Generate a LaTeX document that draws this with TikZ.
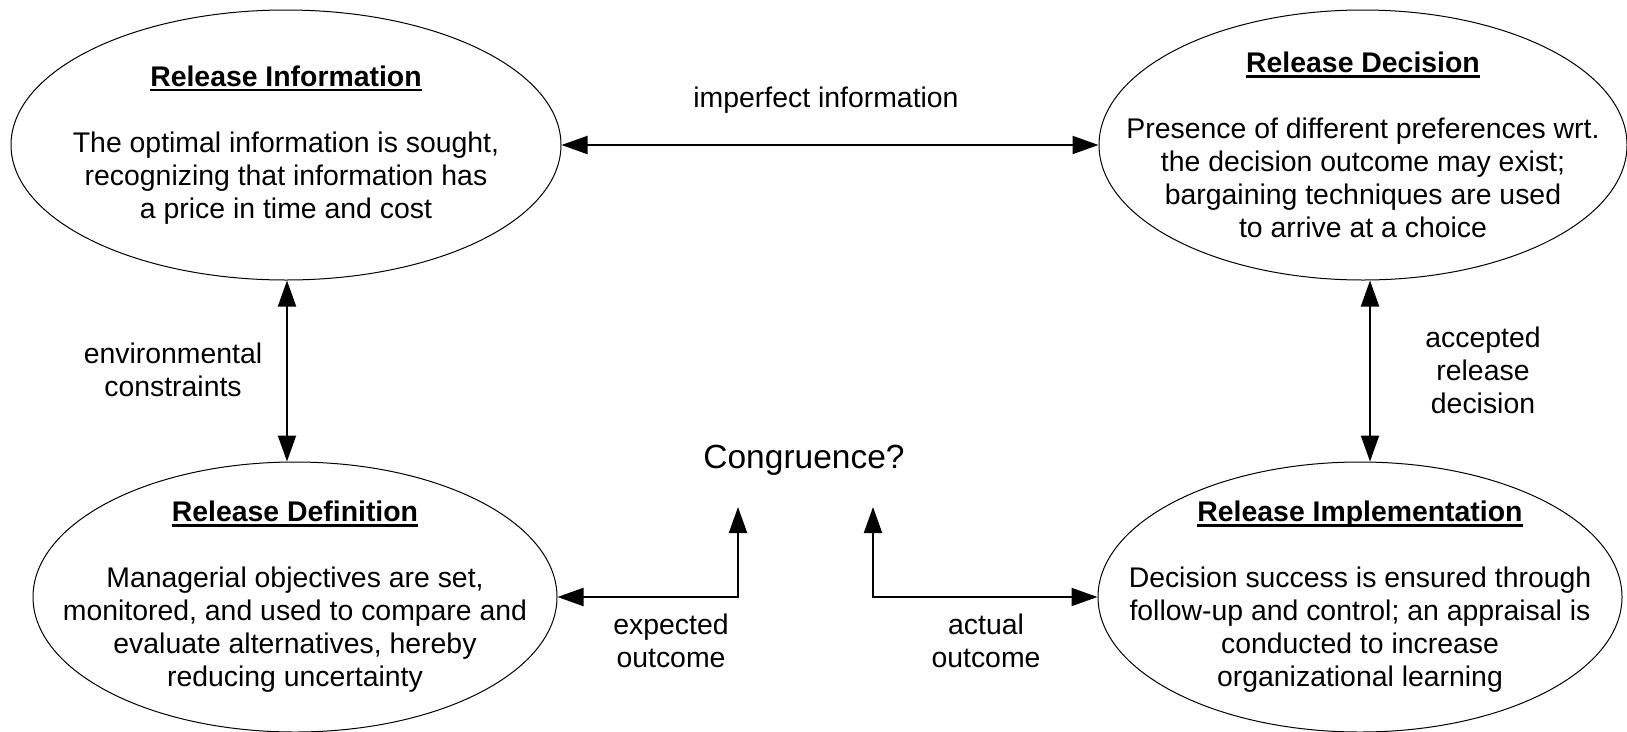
\documentclass[tikz,border=0pt]{standalone}
\usepackage{fontspec}
\setmainfont{Liberation Sans}
\usetikzlibrary{shapes.geometric,arrows.meta}
\newcommand\ttl[1]{\setbox0\hbox{\bfseries #1}\leavevmode\rlap{\rule[-5pt]{\wd0}{2.5pt}}\box0}
\begin{document}
\begin{tikzpicture}[x=1pt,y=-1pt,
  ell/.style={draw, ellipse, line width=1pt, inner sep=0pt},
  body/.style={align=center, font=\fontsize{28.4}{33}\selectfont, inner sep=0pt},
  lbl/.style={align=center, font=\fontsize{28.4}{33}\selectfont, inner sep=0pt},
  arr/.style={line width=2pt, {Triangle[length=26pt,width=18pt]}-{Triangle[length=26pt,width=18pt]}}]
\useasboundingbox (0,0) rectangle (1627,731);

\node[ell, minimum width=550pt, minimum height=270pt] (info) at (286,145) {};
\node[ell, minimum width=528pt, minimum height=270pt] (dec) at (1363,145) {};
\node[ell, minimum width=524pt, minimum height=270pt] (def) at (295,597) {};
\node[ell, minimum width=524pt, minimum height=270pt] (impl) at (1360,597) {};

\node[body] (infot) at (info.center) {\ttl{Release Information}\\[33pt]
  The optimal information is sought,\\recognizing that information has\\a price in time and cost};
\node[body] (dect) at (dec.center) {\ttl{Release Decision}\\[33pt]
  Presence of different preferences wrt.\\the decision outcome may exist;\\bargaining techniques are used\\to arrive at a choice};
\node[body] (deft) at (def.center) {\ttl{Release Definition}\\[33pt]
  Managerial objectives are set,\\monitored, and used to compare and\\evaluate alternatives, hereby\\reducing uncertainty};
\node[body] (implt) at (impl.center) {\ttl{Release Implementation}\\[33pt]
  Decision success is ensured through\\follow-up and control; an appraisal is\\conducted to increase\\organizational learning};

\node[lbl] (imp) at (826,100) {imperfect information};
\node[lbl] (env) at (173,370) {environmental\\constraints};
\node[lbl] (acc) at (1483,370) {accepted\\release\\decision};
\node[lbl] (exp) at (671,641) {expected\\outcome};
\node[lbl] (act) at (986,641) {actual\\outcome};
\node[inner sep=0pt, font=\fontsize{33.5}{38}\selectfont] (cong) at (804,460) {Congruence?};

\coordinate (lx) at (287,0);
\coordinate (rx) at (1370,0);
\coordinate (eo) at (738,507);
\coordinate (ao) at (873,507);

\draw[arr] (info.east) -- (dec.west);
\draw[arr] (info.south -| lx) -- (def.north -| lx);
\draw[arr] (dec.south -| rx) -- (impl.north -| rx);
\draw[arr] (def.east) -| (eo);
\draw[arr] (impl.west) -| (ao);
\end{tikzpicture}
\end{document}
